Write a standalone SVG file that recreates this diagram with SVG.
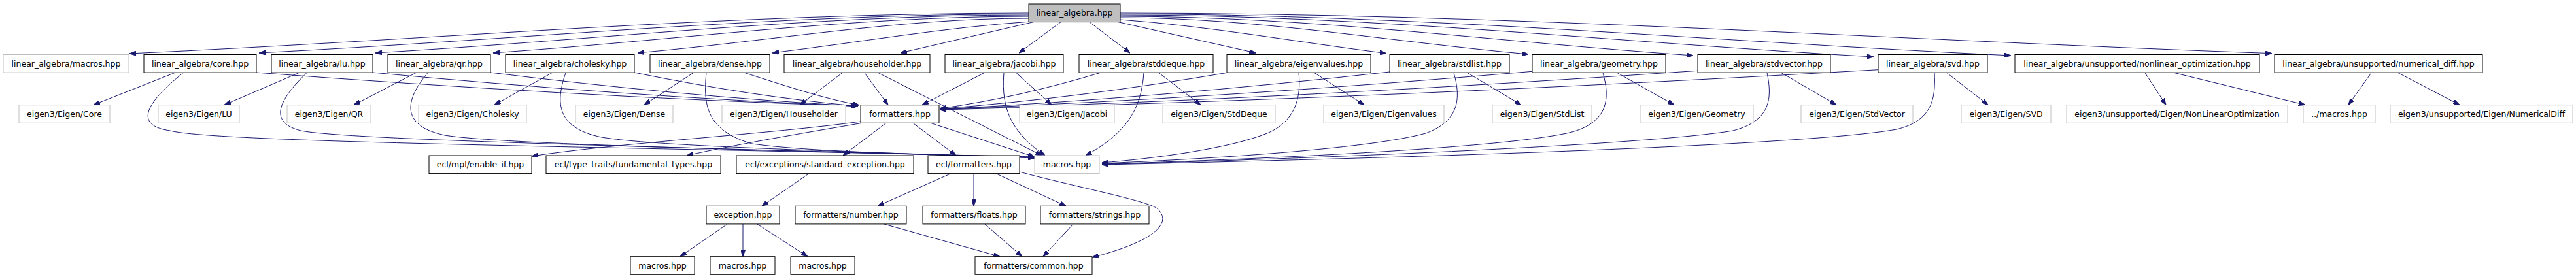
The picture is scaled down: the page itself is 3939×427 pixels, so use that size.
<svg xmlns="http://www.w3.org/2000/svg" width="3939" height="427" viewBox="0 0 3939 427">
<style>
.b{fill:#fff;stroke:#000;stroke-width:1}
.g{fill:#fff;stroke:#bfbfbf;stroke-width:1}
.t{fill:#bfbfbf;stroke:#000;stroke-width:1}
text{font-family:"DejaVu Sans","Liberation Sans",sans-serif;font-size:12.5px;fill:#000;text-anchor:middle}
#edges path{fill:none;stroke:#191970;stroke-width:1;marker-end:url(#ah)}
</style>
<defs>
<marker id="ah" markerUnits="userSpaceOnUse" markerWidth="10" markerHeight="7" refX="10" refY="3.5" orient="auto">
<path d="M0,0 L10,3.5 L0,7 z" fill="#191970" stroke="#191970" stroke-width="1"/>
</marker>
</defs>
<rect width="3939" height="427" fill="#fff"/>
<g id="edges">
<path d="M1573,20 C1114.7,20 656.3,61.3 198,82"/>
<path d="M1573,21.5 C1180.7,21.5 788.3,61.2 396,81"/>
<path d="M1573,23 C1240,23 907,61.7 574,81"/>
<path d="M1573,25 C1300,25 1027,62.3 754,81"/>
<path d="M1573,28 C1373.7,28 1174.3,63.3 975,81"/>
<path d="M1576,33 C1444,42 1312,65 1181,81"/>
<path d="M1583,33 L1377,81"/>
<path d="M1623,33 L1558,81"/>
<path d="M1665,33 L1728,81"/>
<path d="M1707,33 L1920,81"/>
<path d="M1713,30 C1848.7,40 1984.3,64.5 2120,81.7"/>
<path d="M1713,27 C1921,27 2129,64.3 2337,83"/>
<path d="M1713,25 C2005,25 2297,65 2589,85"/>
<path d="M1713,23 C2097,23 2481,65.7 2865,87"/>
<path d="M1713,21.5 C2167,21.5 2621,63.8 3075,85"/>
<path d="M1713,20 C2300,20 2887,61.1 3474,81.7"/>
<path d="M267,111.5 L143,160.5"/>
<path d="M457,111.5 L343,160.5"/>
<path d="M636,111.5 L541,160.5"/>
<path d="M844,111.5 L756,160.5"/>
<path d="M1060,111.5 L985,160.5"/>
<path d="M1288,111.5 L1223,160.5"/>
<path d="M1554,111.5 L1608,160.5"/>
<path d="M1772,111.5 L1836,160.5"/>
<path d="M2010,111.5 L2086,160.5"/>
<path d="M2244,111.5 L2326,160.5"/>
<path d="M2473,111.5 L2560,160.5"/>
<path d="M2724,111.5 L2808,160.5"/>
<path d="M2977,111.5 L3040,160.5"/>
<path d="M3280,111.5 L3312,160.5"/>
<path d="M3325,111.5 L3525,160.5"/>
<path d="M3626,111.5 L3591,160.5"/>
<path d="M3667,111.5 L3761,160.5"/>
<path d="M392,111 C698.7,134.2 1005.3,152.2 1312,162.5"/>
<path d="M570,111 C817.3,134.2 1064.7,152.2 1312,162.5"/>
<path d="M750,111 C937.3,134.2 1124.7,152.2 1312,162.5"/>
<path d="M970,111 C1084,134.2 1198,152.2 1312,162.5"/>
<path d="M1139,111.5 C1197,130 1256,150 1314,161"/>
<path d="M1322,111.5 L1358,160.5"/>
<path d="M1505,111.5 L1410,160.5"/>
<path d="M1682,111.5 C1600.3,136 1518.7,155.1 1437,166"/>
<path d="M1878,111 C1731,136 1584,155.4 1437,166.5"/>
<path d="M2125,110 C1895.7,135.7 1666.3,155.6 1437,167"/>
<path d="M2343,109.3 C2041,135.3 1739,155.5 1437,167"/>
<path d="M2596,108.3 C2209.7,134.9 1823.3,155.7 1437,167.5"/>
<path d="M2872,106.7 C2393.7,134.3 1915.3,155.7 1437,168"/>
<path d="M280,111.5 C245,140 190,190 260,200 C330,218 900,224 1582,240"/>
<path d="M469,111.5 C440,140 400,185 460,200 C530,214 1000,225 1582,240.5"/>
<path d="M654,111.5 C630,140 600,190 680,207 C760,220 1100,228 1582,241"/>
<path d="M865,111.5 C852,150 845,195 920,210 C1000,224 1300,232 1582,241.5"/>
<path d="M1080,111.5 C1075,160 1080,200 1150,220 C1250,234 1450,236 1582,242"/>
<path d="M1343,111.5 L1593,238"/>
<path d="M1535,111.5 C1530,170 1550,205 1598,238"/>
<path d="M1749,111.5 C1745,170 1720,205 1660,238"/>
<path d="M1986,111.5 C1990,150 1980,185 1940,203 C1880,228 1760,243 1685,249"/>
<path d="M2223,111.5 C2234,150 2232,185 2180,204 C2100,226 1880,242 1685,250"/>
<path d="M2451,111.5 C2462,150 2460,188 2400,203 C2300,226 1950,243 1685,251"/>
<path d="M2702,111.5 C2710,150 2708,185 2650,200 C2520,222 2000,243 1685,251.5"/>
<path d="M2958,111.5 C2960,150 2955,185 2900,198 C2750,225 2050,244 1685,252"/>
<path d="M1316,186 C1180,205 950,218 813,239"/>
<path d="M1318,188.3 C1250,200 1130,220 1050,238"/>
<path d="M1355,188.3 L1289,238"/>
<path d="M1396,188.3 L1462,238"/>
<path d="M1423,188.3 L1582,240"/>
<path d="M1454,265.6 L1342,315.3"/>
<path d="M1489,265.6 L1489,315.3"/>
<path d="M1523,265.6 L1630,315.3"/>
<path d="M1559,263 C1640,285 1745,305 1768,318 C1790,335 1782,365 1670,394"/>
<path d="M1237,265.6 L1165,315.3"/>
<path d="M1112,343 L1040,392.7"/>
<path d="M1136,343 L1136,392.7"/>
<path d="M1158,343 L1235,392.7"/>
<path d="M1352,343 L1529,392.7"/>
<path d="M1506,343 L1563,392.7"/>
<path d="M1641,343 L1595,392.7"/>
</g>
<g id="n0"><rect class="t" x="1573" y="6" width="140" height="27.6"/><text x="1643" y="24.1">linear_algebra.hpp</text></g>
<g id="n1"><rect class="g" x="5" y="83.5" width="192" height="27.6"/><text x="101" y="101.6">linear_algebra/macros.hpp</text></g>
<g id="n2"><rect class="b" x="220" y="83.5" width="172" height="27.6"/><text x="306" y="101.6">linear_algebra/core.hpp</text></g>
<g id="n3"><rect class="b" x="415" y="83.5" width="155" height="27.6"/><text x="492.5" y="101.6">linear_algebra/lu.hpp</text></g>
<g id="n4"><rect class="b" x="593" y="83.5" width="157" height="27.6"/><text x="671.5" y="101.6">linear_algebra/qr.hpp</text></g>
<g id="n5"><rect class="b" x="773" y="83.5" width="197" height="27.6"/><text x="871.5" y="101.6">linear_algebra/cholesky.hpp</text></g>
<g id="n6"><rect class="b" x="994" y="83.5" width="183" height="27.6"/><text x="1085.5" y="101.6">linear_algebra/dense.hpp</text></g>
<g id="n7"><rect class="b" x="1199" y="83.5" width="223" height="27.6"/><text x="1310.5" y="101.6">linear_algebra/householder.hpp</text></g>
<g id="n8"><rect class="b" x="1445" y="83.5" width="181" height="27.6"/><text x="1535.5" y="101.6">linear_algebra/jacobi.hpp</text></g>
<g id="n9"><rect class="b" x="1650" y="83.5" width="205" height="27.6"/><text x="1752.5" y="101.6">linear_algebra/stddeque.hpp</text></g>
<g id="n10"><rect class="b" x="1876" y="83.5" width="220" height="27.6"/><text x="1986" y="101.6">linear_algebra/eigenvalues.hpp</text></g>
<g id="n11"><rect class="b" x="2125" y="83.5" width="183" height="27.6"/><text x="2216.5" y="101.6">linear_algebra/stdlist.hpp</text></g>
<g id="n12"><rect class="b" x="2343" y="83.5" width="204" height="27.6"/><text x="2445" y="101.6">linear_algebra/geometry.hpp</text></g>
<g id="n13"><rect class="b" x="2596" y="83.5" width="203" height="27.6"/><text x="2697.5" y="101.6">linear_algebra/stdvector.hpp</text></g>
<g id="n14"><rect class="b" x="2872" y="83.5" width="167" height="27.6"/><text x="2955.5" y="101.6">linear_algebra/svd.hpp</text></g>
<g id="n15"><rect class="b" x="3081" y="83.5" width="374" height="27.6"/><text x="3268" y="101.6">linear_algebra/unsupported/nonlinear_optimization.hpp</text></g>
<g id="n16"><rect class="b" x="3478" y="83.5" width="318" height="27.6"/><text x="3637" y="101.6">linear_algebra/unsupported/numerical_diff.hpp</text></g>
<g id="e1"><rect class="g" x="29" y="160.7" width="139" height="27.6"/><text x="98.5" y="178.8">eigen3/Eigen/Core</text></g>
<g id="e2"><rect class="g" x="242" y="160.7" width="124" height="27.6"/><text x="304" y="178.8">eigen3/Eigen/LU</text></g>
<g id="e3"><rect class="g" x="439" y="160.7" width="128" height="27.6"/><text x="503" y="178.8">eigen3/Eigen/QR</text></g>
<g id="e4"><rect class="g" x="640" y="160.7" width="165" height="27.6"/><text x="722.5" y="178.8">eigen3/Eigen/Cholesky</text></g>
<g id="e5"><rect class="g" x="880" y="160.7" width="149" height="27.6"/><text x="954.5" y="178.8">eigen3/Eigen/Dense</text></g>
<g id="e6"><rect class="g" x="1104" y="160.7" width="189" height="27.6"/><text x="1198.5" y="178.8">eigen3/Eigen/Householder</text></g>
<g id="fm"><rect class="b" x="1316" y="160.7" width="120" height="27.6"/><text x="1376" y="178.8">formatters.hpp</text></g>
<g id="e7"><rect class="g" x="1559" y="160.7" width="145" height="27.6"/><text x="1631.5" y="178.8">eigen3/Eigen/Jacobi</text></g>
<g id="e8"><rect class="g" x="1778" y="160.7" width="172" height="27.6"/><text x="1864" y="178.8">eigen3/Eigen/StdDeque</text></g>
<g id="e9"><rect class="g" x="2024" y="160.7" width="184" height="27.6"/><text x="2116" y="178.8">eigen3/Eigen/Eigenvalues</text></g>
<g id="e10"><rect class="g" x="2282" y="160.7" width="152" height="27.6"/><text x="2358" y="178.8">eigen3/Eigen/StdList</text></g>
<g id="e11"><rect class="g" x="2508" y="160.7" width="173" height="27.6"/><text x="2594.5" y="178.8">eigen3/Eigen/Geometry</text></g>
<g id="e12"><rect class="g" x="2754" y="160.7" width="171" height="27.6"/><text x="2839.5" y="178.8">eigen3/Eigen/StdVector</text></g>
<g id="e13"><rect class="g" x="2999" y="160.7" width="137" height="27.6"/><text x="3067.5" y="178.8">eigen3/Eigen/SVD</text></g>
<g id="e14"><rect class="g" x="3160" y="160.7" width="338" height="27.6"/><text x="3329" y="178.8">eigen3/unsupported/Eigen/NonLinearOptimization</text></g>
<g id="mac2"><rect class="g" x="3522" y="160.7" width="110" height="27.6"/><text x="3577" y="178.8">../macros.hpp</text></g>
<g id="e15"><rect class="g" x="3655" y="160.7" width="279" height="27.6"/><text x="3794.5" y="178.8">eigen3/unsupported/Eigen/NumericalDiff</text></g>
<g id="en"><rect class="b" x="656" y="238" width="157" height="27.6"/><text x="734.5" y="256.1">ecl/mpl/enable_if.hpp</text></g>
<g id="ft"><rect class="b" x="835" y="238" width="267" height="27.6"/><text x="968.5" y="256.1">ecl/type_traits/fundamental_types.hpp</text></g>
<g id="se"><rect class="b" x="1126" y="238" width="271" height="27.6"/><text x="1261.5" y="256.1">ecl/exceptions/standard_exception.hpp</text></g>
<g id="ef"><rect class="b" x="1419" y="238" width="140" height="27.6"/><text x="1489" y="256.1">ecl/formatters.hpp</text></g>
<g id="mac"><rect class="g" x="1582" y="238" width="99" height="27.6"/><text x="1631.5" y="256.1">macros.hpp</text></g>
<g id="ex"><rect class="b" x="1080" y="315.3" width="112" height="27.6"/><text x="1136" y="333.4">exception.hpp</text></g>
<g id="fn"><rect class="b" x="1216" y="315.3" width="170" height="27.6"/><text x="1301" y="333.4">formatters/number.hpp</text></g>
<g id="ff"><rect class="b" x="1411" y="315.3" width="157" height="27.6"/><text x="1489.5" y="333.4">formatters/floats.hpp</text></g>
<g id="fs"><rect class="b" x="1591" y="315.3" width="166" height="27.6"/><text x="1674" y="333.4">formatters/strings.hpp</text></g>
<g id="m1"><rect class="b" x="964" y="392.7" width="98" height="27.6"/><text x="1013" y="410.8">macros.hpp</text></g>
<g id="m2"><rect class="b" x="1086" y="392.7" width="99" height="27.6"/><text x="1135.5" y="410.8">macros.hpp</text></g>
<g id="m3"><rect class="b" x="1209" y="392.7" width="98" height="27.6"/><text x="1258" y="410.8">macros.hpp</text></g>
<g id="fc"><rect class="b" x="1491" y="392.7" width="179" height="27.6"/><text x="1580.5" y="410.8">formatters/common.hpp</text></g>
</svg>
